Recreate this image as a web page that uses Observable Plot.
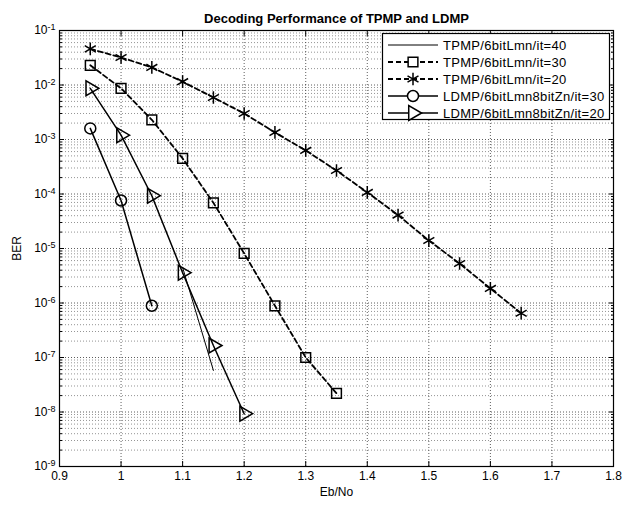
<!DOCTYPE html>
<html><head><meta charset="utf-8">
<script src="https://cdn.jsdelivr.net/npm/d3@7"></script>
<script src="https://cdn.jsdelivr.net/npm/@observablehq/plot@0.6"></script>
<style>
body{margin:0;background:#fff;font-family:"Liberation Sans",Arial,sans-serif}
#wrap{position:relative;width:629px;height:505px}
#legend{position:absolute;left:382px;top:33px;overflow:visible}
</style></head><body><div id="wrap"></div>
<script>
const chartTitle = "Decoding Performance of TPMP and LDMP";
const xLabel = "Eb/No";
const yLabel = "BER";
const xTicks = [0.9,1.0,1.1,1.2,1.3,1.4,1.5,1.6,1.7,1.8];
const yTickExps = [-9,-8,-7,-6,-5,-4,-3,-2,-1];

const seriesNames = ["TPMP/6bitLmn/it=40","TPMP/6bitLmn/it=30","TPMP/6bitLmn/it=20","LDMP/6bitLmn8bitZn/it=30","LDMP/6bitLmn8bitZn/it=20"];

const tpmp40X = [1.1, 1.15];
const tpmp40Y = [4.5e-6, 5.8e-8];
const tpmp30X = [0.95,1.0,1.05,1.1,1.15,1.2,1.25,1.3,1.35];
const tpmp30Y = [2.3e-2,8.7e-3,2.3e-3,4.5e-4,6.9e-5,8.1e-6,8.9e-7,1.0e-7,2.2e-8];
const tpmp20X = [0.95,1.0,1.05,1.1,1.15,1.2,1.25,1.3,1.35,1.4,1.45,1.5,1.55,1.6,1.65];
const tpmp20Y = [4.6e-2,3.2e-2,2.1e-2,1.15e-2,5.9e-3,3.0e-3,1.35e-3,6.3e-4,2.7e-4,1.07e-4,4.1e-5,1.4e-5,5.3e-6,1.85e-6,6.5e-7];
const ldmp30X = [0.95,1.0,1.05];
const ldmp30Y = [1.6e-3,7.6e-5,8.9e-7];
const ldmp20X = [0.95,1.0,1.05,1.1,1.15,1.2];
const ldmp20Y = [8.7e-3,1.2e-3,9.3e-5,3.6e-6,1.66e-7,9.3e-9];

const styles = [
  {dash:null, width:1, symbol:null},
  {dash:"5,3", width:1.8, symbol:"square"},
  {dash:"5,3", width:1.8, symbol:"asterisk"},
  {dash:null, width:1.5, symbol:"circle"},
  {dash:null, width:1.5, symbol:"triangle"}
];
const xs = [tpmp40X,tpmp30X,tpmp20X,ldmp30X,ldmp20X];
const ys = [tpmp40Y,tpmp30Y,tpmp20Y,ldmp30Y,ldmp20Y];
const series = seriesNames.map((name,i)=>({name, style:styles[i], rows: xs[i].map((x,j)=>({x, y: ys[i][j], name}))}));

const yMajor = yTickExps.map(e => Math.pow(10,e));
const yMinor = [];
for (const e of yTickExps.slice(0,-1)) for (let m=2;m<=9;m++) yMinor.push(m*Math.pow(10,e));

const fmtX = d => String(+d.toFixed(1));
const marks = [
  Plot.ruleY(yMinor, {stroke:"#666", strokeWidth:0.7, strokeDasharray:"1,2"}),
  Plot.ruleY(yMajor, {stroke:"#333", strokeWidth:0.8, strokeDasharray:"1,2"}),
  Plot.ruleX(xTicks, {stroke:"#333", strokeWidth:0.8, strokeDasharray:"1,2"}),
];
for (const s of series) {
  marks.push(Plot.line(s.rows, {x:"x", y:"y", stroke:"black", strokeWidth:s.style.width, strokeDasharray:s.style.dash}));
  if (s.style.symbol) {
    marks.push(Plot.dot(s.rows, {x:"x", y:"y", symbol: s.style.symbol, r: s.style.symbol==="asterisk"?6:5.5, stroke:"black", strokeWidth:1.5, fill: s.style.symbol==="asterisk"?"black":"none", rotate: s.style.symbol==="triangle"?90:0}));
  }
}
marks.push(
  Plot.frame({stroke:"black", strokeWidth:1.2}),
  Plot.axisX(xTicks, {anchor:"bottom", tickSize:-5, tickFormat:()=>"", label:null}),
  Plot.axisX(xTicks, {anchor:"top", tickSize:-5, tickFormat:()=>"", label:null}),
  Plot.axisY(yMajor, {anchor:"left", tickSize:-5, tickFormat:()=>"", label:null}),
  Plot.axisY(yMajor, {anchor:"right", tickSize:-5, tickFormat:()=>"", label:null}),
  Plot.axisY(yMinor, {anchor:"left", tickSize:-3, tickFormat:()=>"", label:null}),
  Plot.axisY(yMinor, {anchor:"right", tickSize:-3, tickFormat:()=>"", label:null}),
  Plot.axisX(xTicks, {anchor:"bottom", tickSize:0, tickPadding:5, tickFormat:fmtX, fontSize:12, fill:"black", label:xLabel, labelAnchor:"center", labelArrow:"none", labelOffset:29}),
  Plot.axisY(yMajor, {anchor:"left", tickSize:0, tickPadding:4, tickFormat:d=>"10^"+Math.round(Math.log10(d)), fontSize:12, fill:"black", label:yLabel, labelAnchor:"center", labelArrow:"none", labelOffset:47}),
  Plot.text([chartTitle], {frameAnchor:"top", dy:-17, fontWeight:"bold", fontSize:13, fill:"black"})
);

const chart = Plot.plot({
  width:629, height:505,
  marginLeft:59, marginRight:16, marginTop:30, marginBottom:39,
  style:{fontFamily:"'Liberation Sans', Arial, sans-serif", fontSize:"12px", background:"white", color:"black"},
  x:{type:"linear", domain:[0.9,1.8]},
  y:{type:"log", domain:[1e-9,1e-1]},
  marks
});
document.getElementById("wrap").appendChild(chart);

// superscript exponents in y tick labels
d3.select(chart).selectAll("text").each(function(){
  const t = this.textContent;
  const m = /^10\^(-?\d+)$/.exec(t);
  if (m) {
    const el = d3.select(this);
    el.text("10");
    el.append("tspan").attr("dy","-0.45em").attr("font-size","9px").text(m[1]);
  }
});

// legend overlay
const lw = 228, lh = 87;
const leg = d3.select("#wrap").append("svg").attr("id","legend").attr("width",247).attr("height",lh);
leg.append("rect").attr("x",0.5).attr("y",0.5).attr("width",lw-1).attr("height",lh-1).attr("fill","white").attr("stroke","black").attr("stroke-width",1.2);
const symGen = {square:d3.symbolSquare, asterisk:d3.symbolAsterisk, circle:d3.symbolCircle, triangle:d3.symbolTriangle};
series.forEach((s,i)=>{
  const yy = 12 + i*17;
  leg.append("line").attr("x1",6).attr("x2",56).attr("y1",yy).attr("y2",yy).attr("stroke","black").attr("stroke-width",s.style.width).attr("stroke-dasharray",s.style.dash);
  if (s.style.symbol) {
    const r = s.style.symbol==="asterisk"?6:5.5;
    leg.append("path").attr("d", d3.symbol(symGen[s.style.symbol], Math.PI*r*r)())
      .attr("transform",`translate(31,${yy}) rotate(${s.style.symbol==="triangle"?90:0})`)
      .attr("fill", s.style.symbol==="asterisk"?"black":"white").attr("stroke","black").attr("stroke-width",1.5);
  }
  leg.append("text").attr("x",61).attr("y",yy).attr("dy","0.35em").attr("font-size","13px").attr("letter-spacing","0.3px").attr("font-family","'Liberation Sans', Arial, sans-serif").text(s.name);
});
</script></body></html>
